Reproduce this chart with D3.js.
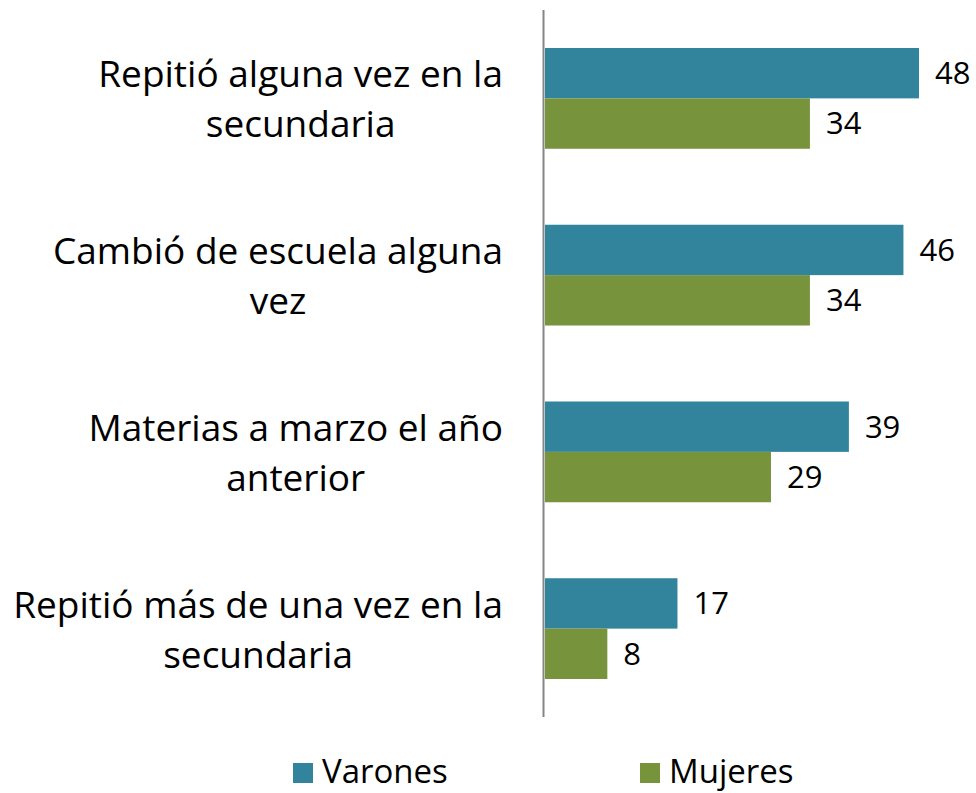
<!DOCTYPE html>
<html>
<head>
<meta charset="utf-8">
<script src="https://cdn.jsdelivr.net/npm/d3@7"></script>
<style>
  body { margin: 0; background: #fff; }
  text { font-family: "Open Sans", Lato, sans-serif; fill: #000; }
</style>
</head>
<body>
<div id="chart"></div>
<script>
// Data
const categories = [
  ['Repitió alguna vez en la', 'secundaria'],
  ['Cambió de escuela alguna', 'vez'],
  ['Materias a marzo el año', 'anterior'],
  ['Repitió más de una vez en la', 'secundaria']
];
const series = ['Varones', 'Mujeres'];
const varones = [48, 46, 39, 17];
const mujeres = [34, 34, 29, 8];
const colors = ['#31849B', '#77933C'];

const width = 976, height = 793;

const svg = d3.select('#chart')
  .append('svg')
  .attr('width', width)
  .attr('height', height);

const rows = categories.map((c, i) => ({ label: c, values: [varones[i], mujeres[i]], key: i }));

// Scales
const x = d3.scaleLinear()
  .domain([0, 50])
  .range([545, 934.6]);

const y = d3.scaleBand()
  .domain(rows.map(d => d.key))
  .range([10, 717])
  .paddingInner(0.43)
  .paddingOuter(0.215);

const ySub = d3.scaleBand()
  .domain([0, 1])
  .range([0, y.bandwidth()]);

// Bars
const groups = svg.selectAll('g.group')
  .data(rows)
  .enter()
  .append('g')
  .attr('class', 'group')
  .attr('transform', d => `translate(0,${y(d.key)})`);

groups.selectAll('rect')
  .data(d => d.values)
  .enter()
  .append('rect')
  .attr('x', x(0))
  .attr('y', (v, i) => ySub(i))
  .attr('width', v => x(v) - x(0))
  .attr('height', ySub.bandwidth())
  .attr('fill', (v, i) => colors[i]);

// Value labels
groups.selectAll('text.value')
  .data(d => d.values)
  .enter()
  .append('text')
  .attr('class', 'value')
  .attr('x', v => x(v) + 16)
  .attr('y', (v, i) => ySub(i) + ySub.bandwidth() / 2)
  .attr('dy', '0.35em')
  .style('font-size', '31px')
  .text(v => v);

// Category labels: first line right-aligned, following lines centred on it
groups.each(function(d) {
  const g = d3.select(this);
  const first = g.append('text')
    .attr('text-anchor', 'end')
    .attr('x', 503)
    .attr('y', y.bandwidth() / 2 - 11)
    .style('font-size', '37px')
    .text(d.label[0]);
  const w = first.node().getComputedTextLength();
  d.label.slice(1).forEach((line, j) => {
    g.append('text')
      .attr('text-anchor', 'middle')
      .attr('x', 503 - w / 2)
      .attr('y', y.bandwidth() / 2 - 11 + (j + 1) * 50)
      .style('font-size', '37px')
      .text(line);
  });
});

// Axis line
svg.append('line')
  .attr('x1', 543.5).attr('x2', 543.5)
  .attr('y1', 10).attr('y2', 717)
  .attr('stroke', '#868686')
  .attr('stroke-width', 2);

// Legend
const legendX = [293, 640];
const legend = svg.selectAll('g.legend')
  .data(series)
  .enter()
  .append('g')
  .attr('class', 'legend')
  .attr('transform', (d, i) => `translate(${legendX[i]},763)`);

legend.append('rect')
  .attr('width', 20)
  .attr('height', 20)
  .attr('fill', (d, i) => colors[i]);

legend.append('text')
  .attr('x', 29)
  .attr('y', 20)
  .style('font-size', '33px')
  .text(d => d);
</script>
</body>
</html>
